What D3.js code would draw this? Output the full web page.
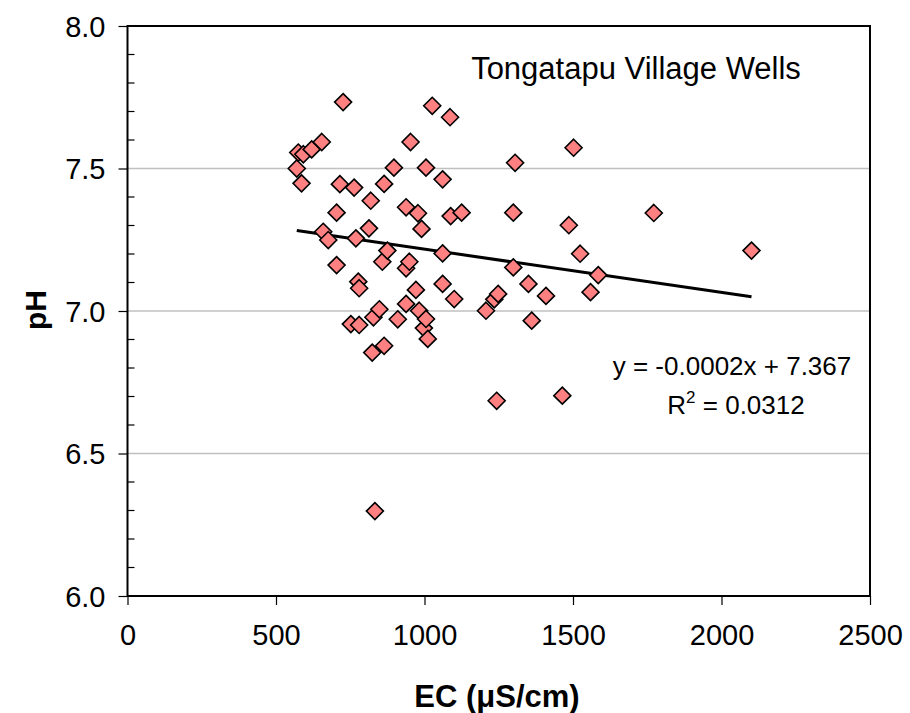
<!DOCTYPE html>
<html><head><meta charset="utf-8">
<script src="https://cdn.jsdelivr.net/npm/d3@7"></script>
<style>body{margin:0;background:#fff;} text{font-family:"Liberation Sans",Arial,sans-serif;fill:#000;}</style>
</head><body>
<svg id="c" width="910" height="713"></svg>
<script>
const ecValues = [570,575,586,592,620,654,659,676,704,704,715,726,752,763,769,777,780,780,813,819,824,828,833,848,858,864,864,875,897,910,938,938,938,949,953,971,978,982,990,998,1005,1005,1011,1026,1061,1061,1061,1086,1088,1100,1125,1207,1235,1243,1248,1299,1299,1305,1350,1361,1409,1464,1486,1502,1524,1559,1585,1772,2101];
const phValues = [7.50,7.556,7.448,7.55,7.567,7.593,7.278,7.249,7.345,7.161,7.445,7.733,6.954,7.433,7.255,7.103,7.08,6.951,7.29,7.387,6.854,6.978,6.298,7.006,7.173,7.446,6.878,7.212,7.503,6.971,7.364,7.15,7.025,7.173,7.593,7.074,7.343,7.001,7.288,6.94,7.503,6.972,6.902,7.72,7.462,7.202,7.095,7.68,7.333,7.042,7.345,7.001,7.041,6.685,7.06,7.345,7.153,7.52,7.095,6.966,7.053,6.703,7.301,7.573,7.201,7.066,7.126,7.344,7.212];
const xTicks = [0,500,1000,1500,2000,2500];
const yTicks = [6.0,6.5,7.0,7.5,8.0];
const yGrid = [6.5,7.0,7.5];
const titleText = "Tongatapu Village Wells";
const eqText = "y = -0.0002x + 7.367";
const r2Value = "0.0312";

const L=127.5, R=870, T=26, B=596;
const svg = d3.select("#c");
const x = d3.scaleLinear().domain([0,2500]).range([L,R]);
const y = d3.scaleLinear().domain([6,8]).range([B,T]);

// grid
svg.selectAll(".g").data(yGrid).enter().append("line")
  .attr("x1",L).attr("x2",R).attr("y1",d=>y(d)).attr("y2",d=>y(d))
  .attr("stroke","#c0c0c0").attr("stroke-width",1.5);

// minor y ticks (inside)
const minor = d3.range(61,80).map(i=>i/10).filter(v=>Math.abs(v*2-Math.round(v*2))>1e-6);
svg.selectAll(".mt").data(minor).enter().append("line")
  .attr("x1",L).attr("x2",L+7).attr("y1",d=>y(d)).attr("y2",d=>y(d))
  .attr("stroke","#000").attr("stroke-width",1.2);

// axes
const ya = d3.axisLeft(y).tickValues(yTicks).tickFormat(d3.format(".1f")).tickSize(9).tickPadding(13);
const gy = svg.append("g").attr("transform",`translate(${L},0)`).call(ya);
const xa = d3.axisBottom(x).tickValues(xTicks).tickFormat(d3.format("d")).tickSize(9).tickPadding(19);
const gx = svg.append("g").attr("transform",`translate(0,${B})`).call(xa);
[gx,gy].forEach(g=>{
  g.select(".domain").remove();
  g.selectAll("line").attr("stroke","#000").attr("stroke-width",1.2);
  g.selectAll("text").style("font-size","29px").attr("fill","#000");
});
gy.selectAll("text").attr("dy","0.36em");
gx.selectAll("text").attr("dy","0.72em");

// frame
svg.append("rect").attr("x",L).attr("y",T).attr("width",R-L).attr("height",B-T)
  .attr("fill","none").attr("stroke","#000").attr("stroke-width",2);

// regression
const mx=d3.mean(ecValues), my=d3.mean(phValues);
let sxy=0,sxx=0; ecValues.forEach((v,i)=>{sxy+=(v-mx)*(phValues[i]-my); sxx+=(v-mx)*(v-mx);});
const slope=sxy/sxx, icpt=my-slope*mx;
const xmin=d3.min(ecValues), xmax=d3.max(ecValues);
svg.append("line").attr("x1",x(xmin)).attr("x2",x(xmax))
  .attr("y1",y(icpt+slope*xmin)).attr("y2",y(icpt+slope*xmax))
  .attr("stroke","#000").attr("stroke-width",3);

// points
const diamond = "M0,-8.5L8.5,0L0,8.5L-8.5,0Z";
svg.selectAll(".p").data(ecValues).enter().append("path")
  .attr("d",diamond).attr("transform",(d,i)=>`translate(${x(d)},${y(phValues[i])})`)
  .attr("fill","#ff8080").attr("stroke","#000").attr("stroke-width",1.6);

// texts
svg.append("text").attr("x",636).attr("y",79).attr("text-anchor","middle").style("font-size","31px").text(titleText);
svg.append("text").attr("x",732).attr("y",375).attr("text-anchor","middle").style("font-size","26px").text(eqText);
const r2 = svg.append("text").attr("x",736).attr("y",414).attr("text-anchor","middle").style("font-size","26px");
r2.append("tspan").text("R");
r2.append("tspan").attr("dy",-11).style("font-size","17px").text("2");
r2.append("tspan").attr("dy",11).text(" = "+r2Value);

svg.append("text").attr("x",497).attr("y",707).attr("text-anchor","middle").style("font-size","31px").style("font-weight","bold").text("EC (μS/cm)");
svg.append("text").attr("transform","translate(46,310) rotate(-90)").attr("text-anchor","middle").style("font-size","30px").style("font-weight","bold").text("pH");
</script>
</body></html>
